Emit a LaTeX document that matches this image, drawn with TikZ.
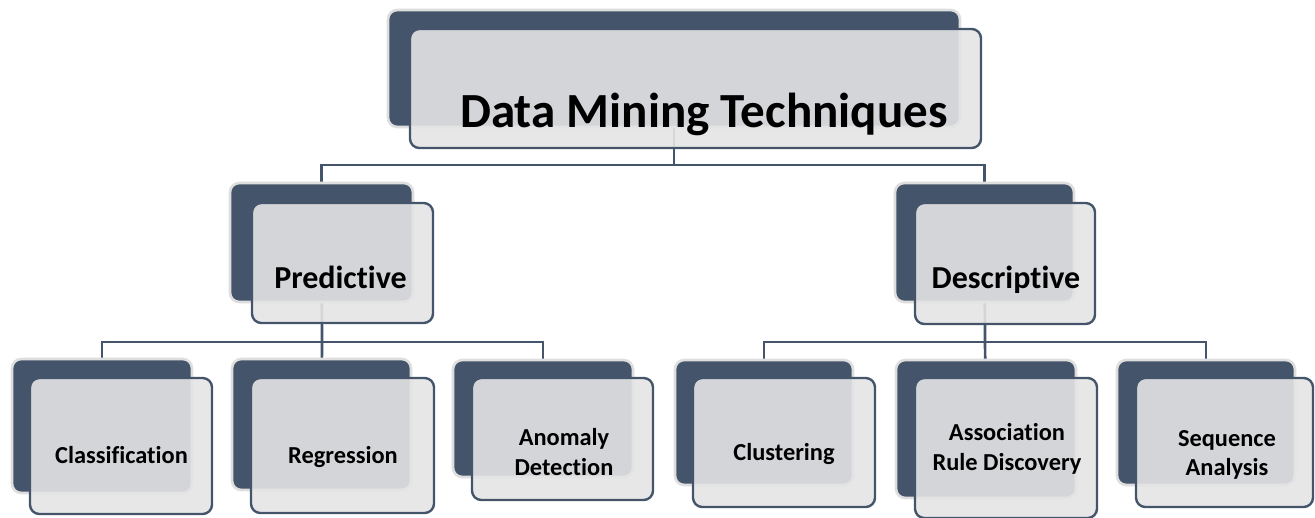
\documentclass[tikz,border=0pt]{standalone}
\usepackage{fontspec}
\setmainfont{Carlito}[Ligatures={NoCommon,NoDiscretionary,NoContextual}]
\usetikzlibrary{fit}
\definecolor{slate}{HTML}{44546A}
\definecolor{rim}{HTML}{DEDEDE}
\definecolor{pane}{HTML}{E4E4E5}
\pgfdeclarelayer{bg}
\pgfsetlayers{bg,main}
\begin{document}
\begin{tikzpicture}[x=0.75pt,y=-0.75pt,
  backbox/.style={rectangle, inner sep=0pt, outer sep=0pt, fill=slate, draw=rim, line width=2pt, rounded corners=7pt},
  frontbox/.style={rectangle, inner sep=0pt, outer sep=0pt, fill=pane, fill opacity=0.9, draw=slate, draw opacity=1, line width=1.8pt, rounded corners=7pt},
  conn/.style={draw=slate, line width=2pt},
  ttl/.style={font=\fontsize{36.8}{40}\selectfont\bfseries, inner sep=0pt, anchor=base, text=black},
  mid/.style={font=\fontsize{24}{28}\selectfont\bfseries, inner sep=0pt, anchor=base, text=black},
  low/.style={font=\fontsize{18.3}{21}\selectfont\bfseries, inner sep=0pt, anchor=base, text=black, align=center},
  lowtwo/.style={font=\fontsize{18.3}{22}\selectfont\bfseries, inner sep=0pt, anchor=center, text=black, align=center}
]
\useasboundingbox (0,0) rectangle (1315,518);

% back boxes
\node[backbox, fit={(388,10) (960,127)}] (topB) {};
\node[backbox, fit={(230,183) (413,302)}] (predB) {};
\node[backbox, fit={(895,183) (1074,302)}] (descB) {};
\node[backbox, fit={(12,359) (192,493)}] (clsB) {};
\node[backbox, fit={(232,359) (411,490)}] (regB) {};
\node[backbox, fit={(453,360) (633,477)}] (anoB) {};
\node[backbox, fit={(675,360) (853,485)}] (cluB) {};
\node[backbox, fit={(896,360) (1076,498)}] (assB) {};
\node[backbox, fit={(1117,360) (1295,485)}] (seqB) {};

% connectors (behind everything)
\coordinate (j0) at (674,165);
\coordinate (j1) at (322,342);
\coordinate (j2) at (985,342);
\begin{pgfonlayer}{bg}
\draw[conn] (topB.center) -- (j0);
\draw[conn] (predB.center) |- (j0) -| (descB.center);
\draw[conn] (predB.center) -- (j1);
\draw[conn] (clsB.center) |- (j1) -| (anoB.center);
\draw[conn] (j1) -- (regB.center);
\draw[conn] (descB.center) -- (j2);
\draw[conn] (cluB.center) |- (j2) -| (seqB.center);
\draw[conn] (j2) -- (assB.center);
\end{pgfonlayer}

% front panes
\node[frontbox, fit={(410,29) (981,148)}] (topF) {};
\node[frontbox, fit={(252,203) (433,323)}] (predF) {};
\node[frontbox, fit={(915,203) (1095,324)}] (descF) {};
\node[frontbox, fit={(30,378) (212,514)}] (clsF) {};
\node[frontbox, fit={(251,378) (434,513)}] (regF) {};
\node[frontbox, fit={(472,378) (653,500)}] (anoF) {};
\node[frontbox, fit={(693,378) (875,507)}] (cluF) {};
\node[frontbox, fit={(915,378) (1097,518)}] (assF) {};
\node[frontbox, fit={(1136,378) (1313,507)}] (seqF) {};

% labels
\node[ttl] (topT) at (704,127) {Data Mining Techniques};
\node[mid] (predT) at (340.5,288) {Predictive};
\node[mid] (descT) at (1006,288) {Descriptive};
\node[low] (clsT) at (121.5,463) {Classification};
\node[low] (regT) at (343,463) {Regression};
\node[lowtwo] (anoT) at (564,452) {Anomaly\\Detection};
\node[low] (cluT) at (784,460) {Clustering};
\node[lowtwo] (assT) at (1007,449) {Association\\Rule Discovery};
\node[lowtwo] (seqT) at (1227,455) {Sequence\\Analysis};
\end{tikzpicture}
\end{document}
